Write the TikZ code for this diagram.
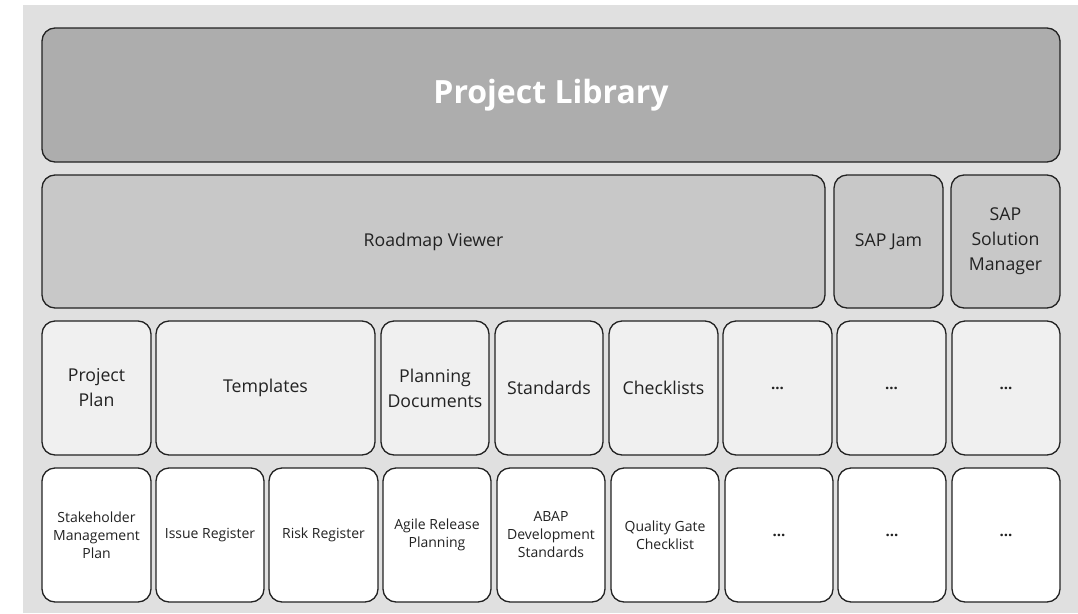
\documentclass[tikz,border=0pt]{standalone}
\usepackage{fontspec}
\setmainfont{Open Sans}
\definecolor{bggray}{HTML}{E0E0E0}
\definecolor{libgray}{HTML}{ADADAD}
\definecolor{midgray}{HTML}{C8C8C8}
\definecolor{lightgray}{HTML}{F0F0F0}
\definecolor{edge}{HTML}{222222}
\definecolor{txt}{HTML}{222222}
\newcommand\bx[7]{\node[#6, minimum width={(#4-#2)*1pt}, minimum height={(#5-#3)*1pt}] (#1) at ({(#2+#4)/2},{(#3+#5)/2}) {#7};}
\tikzset{
  box/.style={draw=edge, line width=1.3pt, rounded corners=13pt, inner sep=0pt, align=center, text=txt},
  libbox/.style={box, fill=libgray, text=white, font=\fontsize{32}{38}\selectfont\bfseries},
  midbox/.style={box, fill=midgray, font=\fontsize{17.7}{25}\selectfont},
  lightbox/.style={box, fill=lightgray, font=\fontsize{17.7}{25}\selectfont},
  whitebox/.style={box, fill=white, font=\fontsize{14}{18}\selectfont},
  dots/.style={font=\fontsize{15}{18}\selectfont\bfseries},
}
\begin{document}
\begin{tikzpicture}[x=1pt,y=-1pt]
\useasboundingbox (0,0) rectangle (1078,613);
\fill[bggray] (23,5) rectangle (1078,613);
\bx{lib}{42}{28}{1060}{162}{libbox}{Project Library}
\bx{road}{42}{175}{825}{308}{midbox}{Roadmap Viewer}
\bx{jam}{834}{175}{943}{308}{midbox}{SAP Jam}
\bx{solman}{951}{175}{1060}{308}{midbox}{SAP\\Solution\\Manager}
\bx{pp}{42}{321}{151}{455}{lightbox}{Project\\Plan}
\bx{tmpl}{156}{321}{375}{455}{lightbox}{Templates}
\bx{pdoc}{381}{321}{489}{455}{lightbox}{Planning\\Documents}
\bx{std}{495}{321}{603}{455}{lightbox}{Standards}
\bx{chk}{609}{321}{718}{455}{lightbox}{Checklists}
\bx{ma}{723}{321}{832}{455}{lightbox,dots}{...}
\bx{mb}{837}{321}{946}{455}{lightbox,dots}{...}
\bx{mc}{952}{321}{1060}{455}{lightbox,dots}{...}
\bx{smp}{42}{468}{151}{602}{whitebox}{Stakeholder\\Management\\Plan}
\bx{iss}{156}{468}{264}{602}{whitebox}{Issue Register}
\bx{risk}{269}{468}{378}{602}{whitebox}{Risk Register}
\bx{agile}{383}{468}{491}{602}{whitebox}{Agile Release\\Planning}
\bx{abap}{497}{468}{605}{602}{whitebox}{ABAP\\Development\\Standards}
\bx{qgc}{611}{468}{719}{602}{whitebox}{Quality Gate\\Checklist}
\bx{wa}{725}{468}{833}{602}{whitebox,dots}{...}
\bx{wb}{838}{468}{946}{602}{whitebox,dots}{...}
\bx{wc}{952}{468}{1060}{602}{whitebox,dots}{...}
\end{tikzpicture}
\end{document}
